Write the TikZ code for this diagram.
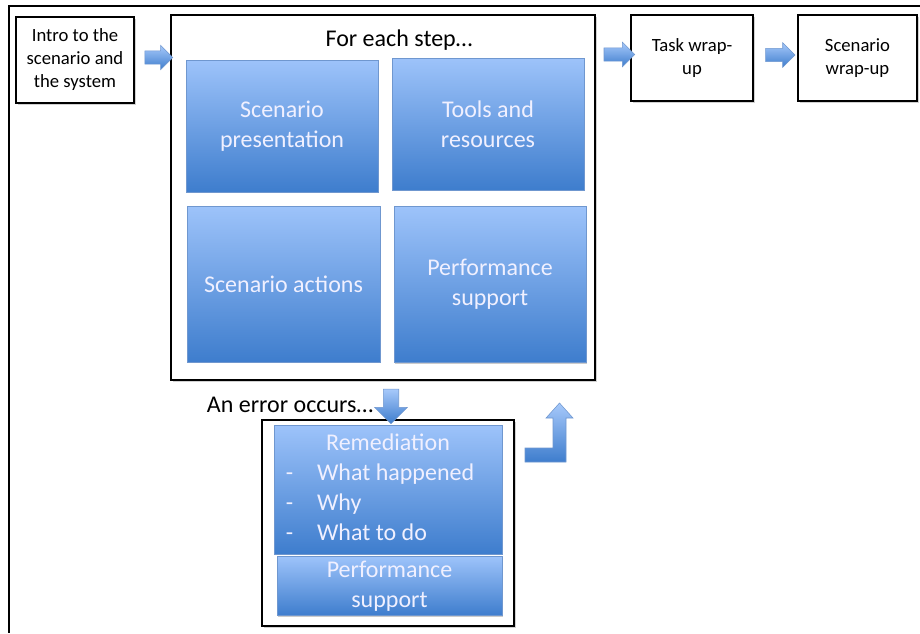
\documentclass[tikz,border=0pt]{standalone}
\usepackage{fontspec}
\setmainfont{Carlito}
\usetikzlibrary{shapes.arrows,shadows}
\definecolor{bluetop}{HTML}{9DC3FA}
\definecolor{bluebot}{HTML}{3E7DCD}
\definecolor{blueline}{HTML}{6F97CF}
\begin{document}
\begin{tikzpicture}[x=0.75pt, y=-0.75pt,
  frame/.style={draw, line width=2pt, fill=white, drop shadow={shadow xshift=1.5pt, shadow yshift=-1.5pt, fill=black!30, opacity=.6}},
  small/.style={frame, align=center, font=\fontsize{14}{17.25}\selectfont},
  bluebox/.style={draw=blueline, line width=.6pt, top color=bluetop, bottom color=bluebot, text=white!94!blue, align=center, font=\fontsize{18}{22.5}\selectfont, drop shadow={shadow xshift=1pt, shadow yshift=-1pt, fill=black!40, opacity=.5}},
  blockarrow/.style={single arrow, draw=blueline, line width=.4pt, top color=bluetop!90!white, bottom color=bluebot, single arrow head extend=4.2pt, inner sep=4.8pt}]
\useasboundingbox (0,0) rectangle (920,633);
\draw[line width=1.6pt] (920,6) -- (9,6) -- (9,633);

\node (intro) at (75,60) [small, minimum width=88.5pt, minimum height=64.5pt] {Intro to the\\scenario and\\the system};
\node (step) at (383,197.5) [frame, minimum width=318pt, minimum height=273.75pt] {};
\node (foreach) at (399,40) [font=\fontsize{18}{22.5}\selectfont] {For each step\dots};
\node (pres) at (282,126) [bluebox, minimum width=144pt, minimum height=99pt] {Scenario\\presentation};
\node (tools) at (488,124) [bluebox, minimum width=144pt, minimum height=99pt] {Tools and\\resources};
\node (actions) at (283.5,284) [bluebox, minimum width=144.75pt, minimum height=117pt] {Scenario actions};
\node (perf) at (490,284.5) [bluebox, minimum width=144pt, minimum height=117pt] {Performance\\support};
\node (task) at (692,58) [small, minimum width=91.5pt, minimum height=64.5pt] {\raisebox{-2pt}{\begin{tabular}{@{}c@{}}Task wrap-\\up\end{tabular}}};
\node (wrap) at (857.5,58) [small, minimum width=89.25pt, minimum height=64.5pt] {\raisebox{-2pt}{\begin{tabular}{@{}c@{}}Scenario\\wrap-up\end{tabular}}};

\node (err) at (388,523) [frame, minimum width=189pt, minimum height=154.5pt] {};
\node (remed) at (388,489.5) [bluebox, minimum width=171pt, minimum height=87.75pt] {\raisebox{-2pt}{\begin{tabular}{@{}l@{\hspace{18pt}}l@{}}\multicolumn{2}{c}{\hspace{12pt}Remediation}\\-&What happened\\-&Why\\-&What to do\end{tabular}}\hspace*{12pt}};
\node (perf2) at (389.5,586) [bluebox, minimum width=168.75pt, minimum height=42pt] {Performance\\support};
\node (occurs) at (290,405) [font=\fontsize{18}{22.5}\selectfont] {An error occurs\dots};

\node (a1) at (155.5,57.5) [blockarrow, minimum height=21pt] {};
\node (a2) at (616,54.5) [blockarrow, minimum height=23pt] {};
\node (a3) at (777,55) [blockarrow, minimum height=22pt] {};
\node (a4) at (391,402.5) [blockarrow, shape border rotate=270, inner sep=5.6pt, single arrow head extend=6.4pt, minimum height=26pt] {};
\path[draw=blueline, line width=.4pt, top color=bluetop!90!white, bottom color=bluebot]
  (525,448) -- (553,448) -- (553,418) -- (546,418) -- (559.5,403) -- (573,418) -- (566,418) -- (566,462) -- (525,462) -- cycle;
\end{tikzpicture}
\end{document}
